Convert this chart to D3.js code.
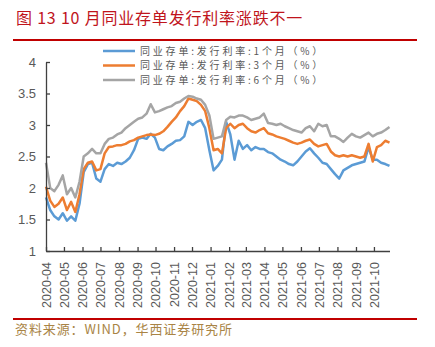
<!DOCTYPE html>
<html><head><meta charset="utf-8">
<script src="https://cdn.jsdelivr.net/npm/d3@7"></script>
<style>
html,body{margin:0;padding:0;background:#fff;}
svg{display:block;}
</style></head>
<body>
<svg id="c" width="435" height="347"></svg>
<script>
const dates = [
"2020-04-01","2020-04-08","2020-04-15","2020-04-22","2020-04-29",
"2020-05-06","2020-05-13","2020-05-20","2020-05-27",
"2020-06-03","2020-06-10","2020-06-17","2020-06-24",
"2020-07-01","2020-07-08","2020-07-15","2020-07-22","2020-07-29",
"2020-08-05","2020-08-12","2020-08-19","2020-08-26",
"2020-09-02","2020-09-09","2020-09-16","2020-09-23","2020-09-30",
"2020-10-07","2020-10-14","2020-10-21","2020-10-28",
"2020-11-04","2020-11-11","2020-11-18","2020-11-25",
"2020-12-02","2020-12-09","2020-12-16","2020-12-23","2020-12-30",
"2021-01-06","2021-01-13","2021-01-20","2021-01-27",
"2021-02-03","2021-02-10","2021-02-17","2021-02-24",
"2021-03-03","2021-03-10","2021-03-17","2021-03-24","2021-03-31",
"2021-04-07","2021-04-14","2021-04-21","2021-04-28",
"2021-05-05","2021-05-12","2021-05-19","2021-05-26",
"2021-06-02","2021-06-09","2021-06-16","2021-06-23","2021-06-30",
"2021-07-07","2021-07-14","2021-07-21","2021-07-28",
"2021-08-04","2021-08-11","2021-08-18","2021-08-25",
"2021-09-01","2021-09-08","2021-09-15","2021-09-22","2021-09-29",
"2021-10-06","2021-10-13","2021-10-20","2021-10-27"];

const rate1M = [
1.85,1.65,1.55,1.50,1.60, 1.48,1.55,1.48,1.75, 2.25,2.38,2.40,2.15,
2.10,2.30,2.38,2.35,2.40, 2.38,2.42,2.48,2.60, 2.78,2.80,2.78,2.86,2.80,
2.62,2.60,2.66,2.70, 2.75,2.76,2.82,3.05, 3.00,3.05,3.08,2.95,2.60,
2.28,2.35,2.45,3.05, 2.85,2.45,2.75,2.62, 2.68,2.60,2.65,2.62,2.62,
2.57,2.55,2.50,2.45, 2.42,2.38,2.36,2.42, 2.50,2.58,2.63,2.55,2.48,
2.40,2.38,2.30,2.22, 2.15,2.28,2.32,2.36, 2.38,2.40,2.42,2.65,2.45,
2.45,2.40,2.38,2.35];

const rate3M = [
2.02,1.80,1.70,1.75,1.85, 1.65,1.78,1.62,1.90, 2.30,2.40,2.42,2.28,
2.30,2.55,2.65,2.66,2.68, 2.68,2.70,2.74,2.76, 2.80,2.82,2.84,2.85,2.84,
2.86,2.90,2.97,3.05, 3.12,3.22,3.30,3.42, 3.40,3.38,3.32,3.22,2.95,
2.60,2.62,2.55,2.95, 3.02,2.95,3.00,3.02, 2.95,2.90,2.88,2.92,2.95,
2.87,2.85,2.82,2.80, 2.78,2.75,2.72,2.70, 2.72,2.75,2.77,2.70,2.66,
2.68,2.70,2.58,2.52, 2.50,2.52,2.50,2.52, 2.50,2.48,2.50,2.70,2.42,
2.65,2.68,2.75,2.72];

const rate6M = [
2.40,2.00,1.95,2.05,2.20, 1.90,2.00,1.85,2.10, 2.50,2.55,2.62,2.55,
2.55,2.70,2.78,2.80,2.85, 2.88,2.95,3.00,3.05, 3.10,3.12,3.18,3.33,3.20,
3.22,3.25,3.28,3.30, 3.35,3.37,3.42,3.46, 3.45,3.42,3.40,3.32,3.15,
2.78,2.80,2.82,3.08, 3.13,3.12,3.15,3.15, 3.12,3.08,3.10,3.12,3.18,
3.03,3.02,3.00,3.02, 2.98,2.95,2.92,2.90, 2.88,2.95,2.98,2.90,3.02,
2.98,3.00,2.82,2.82, 2.78,2.73,2.80,2.86, 2.82,2.80,2.84,2.88,2.82,
2.86,2.88,2.92,2.97];

const seriesNames = ["同业存单:发行利率:1个月（%）","同业存单:发行利率:3个月（%）","同业存单:发行利率:6个月（%）"];
const seriesColors = ["#5b9bd5","#ed7d31","#a5a5a5"];
const yTicks = [1,1.5,2,2.5,3,3.5,4];
const xTickMonths = ["2020-04","2020-05","2020-06","2020-07","2020-08","2020-09","2020-10","2020-11","2020-12",
"2021-01","2021-02","2021-03","2021-04","2021-05","2021-06","2021-07","2021-08","2021-09","2021-10"];
const titleText = "图 13 10 月同业存单发行利率涨跌不一";
const sourceText = "资料来源：WIND，华西证券研究所";

const parse = d3.timeParse("%Y-%m-%d");
const parseM = d3.timeParse("%Y-%m");
const svg = d3.select("#c");
const cjk = "'Noto Sans CJK SC','Noto Sans',sans-serif";
const latin = "'Liberation Sans',Arial,sans-serif";

// title
svg.append("text").attr("x",16).attr("y",24).text(titleText)
  .attr("fill","#c0141c").attr("font-size","16px").attr("font-family",cjk).attr("letter-spacing","0.8px");
svg.append("line").attr("x1",13).attr("x2",417).attr("y1",40).attr("y2",40)
  .attr("stroke","#c00000").attr("stroke-width",2.2);

// scales
const x = d3.scaleTime().domain([parse("2020-04-01"), parse("2021-10-27")]).range([46, 389.5]);
const y = d3.scaleLinear().domain([1,4]).range([251, 62]);

// series lines
const series = [rate1M, rate3M, rate6M];
const line = d3.line().x((d,i)=>x(parse(dates[i]))).y(d=>y(d));
series.forEach((s,i)=>{
  svg.append("path").datum(s).attr("d",line).attr("fill","none")
    .attr("stroke",seriesColors[i]).attr("stroke-width",2.5).attr("stroke-linejoin","round");
});

// axes
const yAxis = d3.axisLeft(y).tickValues(yTicks).tickSize(-4).tickSizeOuter(0).tickPadding(10)
  .tickFormat(d=>String(d));
const gy = svg.append("g").attr("transform","translate(46,0)").call(yAxis);
gy.selectAll("path,line").attr("stroke","#404040").attr("stroke-width",1.3);
gy.selectAll("text").attr("fill","#595959").attr("font-size","13px").attr("font-family",latin);

const xAxis = d3.axisBottom(x).tickValues(xTickMonths.map(parseM)).tickSize(-4).tickSizeOuter(0)
  .tickFormat(d3.timeFormat("%Y-%m"));
const gx = svg.append("g").attr("transform","translate(0,251)").call(xAxis);
gx.selectAll("path,line").attr("stroke","#404040").attr("stroke-width",1.3);
gx.selectAll("text").attr("fill","#595959").attr("font-size","12.5px").attr("font-family",latin)
  .attr("transform","rotate(-90)").attr("x",-11).attr("y",0).attr("dy","0.35em").attr("text-anchor","end");

// legend
const legendRows = [51, 65.5, 80];
seriesNames.forEach((n,i)=>{
  svg.append("line").attr("x1",103).attr("x2",135).attr("y1",legendRows[i]).attr("y2",legendRows[i])
    .attr("stroke",seriesColors[i]).attr("stroke-width",2.5);
  svg.append("text").attr("x",140).attr("y",legendRows[i]).attr("dy","0.35em").text(n)
    .attr("fill","#595959").attr("font-size","10px").attr("font-family",cjk).attr("letter-spacing","2.8px");
});

// source
svg.append("line").attr("x1",13).attr("x2",417).attr("y1",319).attr("y2",319)
  .attr("stroke","#c00000").attr("stroke-width",2.2);
svg.append("text").attr("x",15).attr("y",329).attr("dy","0.35em").text(sourceText)
  .attr("fill","#a98445").attr("font-size","13px").attr("font-family",cjk).attr("letter-spacing","0.9px");
</script>
</body></html>
